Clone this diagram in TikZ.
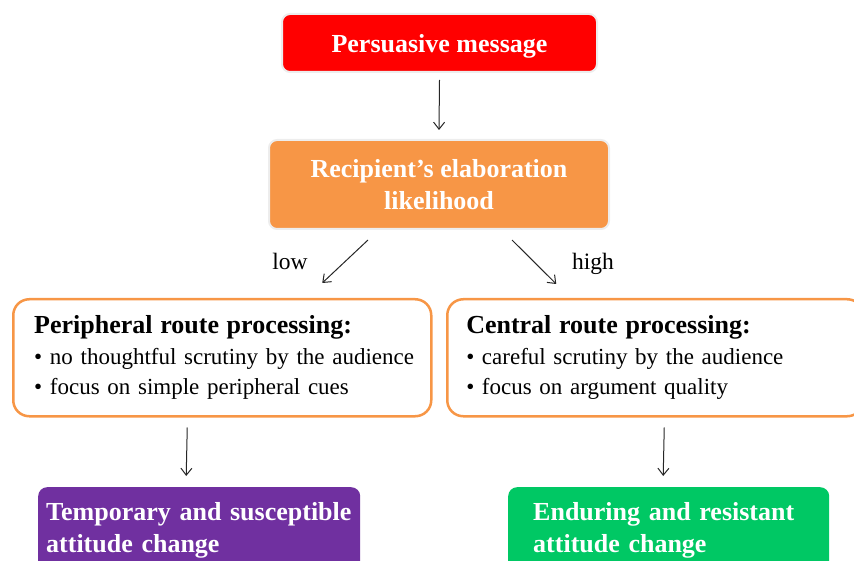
\documentclass[tikz,border=0pt]{standalone}
\usepackage{fontspec}
\setmainfont{Liberation Serif}
\usetikzlibrary{arrows.meta}

\definecolor{msgred}{HTML}{FF0000}
\definecolor{elaborange}{HTML}{F79646}
\definecolor{temppurple}{HTML}{7030A0}
\definecolor{endurgreen}{HTML}{00C864}

\tikzset{
  headfont/.style={font=\fontsize{26}{32}\selectfont\bfseries},
  bodyfont/.style={font=\fontsize{23}{30.5}\selectfont},
  filledbox/.style={rounded corners=8pt, inner ysep=0pt, headfont, text=white,
    draw=black!7, line width=2pt},
  routebox/.style={rounded corners=16pt, draw=elaborange, line width=2.5pt,
    fill=white, inner ysep=0pt, minimum height=117pt, align=left, bodyfont},
  resultbox/.style={rounded corners=9pt, inner ysep=0pt, minimum height=86pt,
    align=left, headfont, text=white},
  arr/.style={draw=black!85, line width=1pt, -{Straight Barb[length=7pt,width=11pt]}},
  lbl/.style={font=\fontsize{23.5}{28}\selectfont, inner sep=0pt, anchor=base}
}
% one unbroken line of a box
\newcommand{\oneline}[1]{\mbox{#1}}
\newcommand{\routehead}[1]{\mbox{\fontsize{26}{31}\selectfont\bfseries #1}}

\begin{document}
\begin{tikzpicture}[x=1pt,y=-1pt]
  \useasboundingbox (0,0) rectangle (854,561);
  \clip (0,0) rectangle (854,561);

  % top of the chain
  \node[filledbox, fill=msgred, anchor=north west, minimum width=315pt,
        minimum height=58pt, text height=24.5pt, text depth=6pt] (msg) at (281,13)
        {Persuasive message};
  \node[filledbox, fill=elaborange, anchor=north west, minimum width=340pt,
        minimum height=89pt, align=center] (elab) at (268,139)
        {Recipient’s elaboration\\likelihood};

  % the two processing routes
  \node[routebox, anchor=north west, inner xsep=21pt, text width=376pt] (periph) at (12,298)
    {\routehead{Peripheral route processing:}\\
     \oneline{• no thoughtful scrutiny by the audience}\\
     \oneline{• focus on simple peripheral cues}};
  \node[routebox, anchor=north west, inner xsep=19pt, text width=378pt] (central) at (446,298)
    {\routehead{Central route processing:}\\
     \oneline{• careful scrutiny by the audience}\\
     \oneline{• focus on argument quality}};

  % outcomes
  \node[resultbox, fill=temppurple, anchor=north west, inner xsep=8pt,
        text width=306pt] (temp) at (38,487)
        {\oneline{Temporary and susceptible}\\attitude change};
  \node[resultbox, fill=endurgreen, anchor=north west, inner xsep=25pt,
        text width=271pt] (endur) at (508,487)
        {\oneline{Enduring and resistant}\\attitude change};

  % labels on the branches
  \node[lbl] (lowlbl) at (290,270) {low};
  \node[lbl] (highlbl) at (593,270) {high};

  % connectors
  \draw[arr] ([yshift=-7pt]msg.south) -- ([yshift=9pt]elab.north);
  \draw[arr] ([xshift=-71pt,yshift=-10pt]elab.south) -- ([xshift=100pt,yshift=15pt]periph.north);
  \draw[arr] ([xshift=73pt,yshift=-10pt]elab.south) -- ([xshift=-99pt,yshift=14pt]central.north);
  \draw[arr] ([xshift=-35pt,yshift=-10pt]periph.south) -- ([xshift=-13pt,yshift=11pt]temp.north);
  \draw[arr] ([xshift=9pt,yshift=-10pt]central.south) -- ([xshift=-5.5pt,yshift=11pt]endur.north);
\end{tikzpicture}
\end{document}
